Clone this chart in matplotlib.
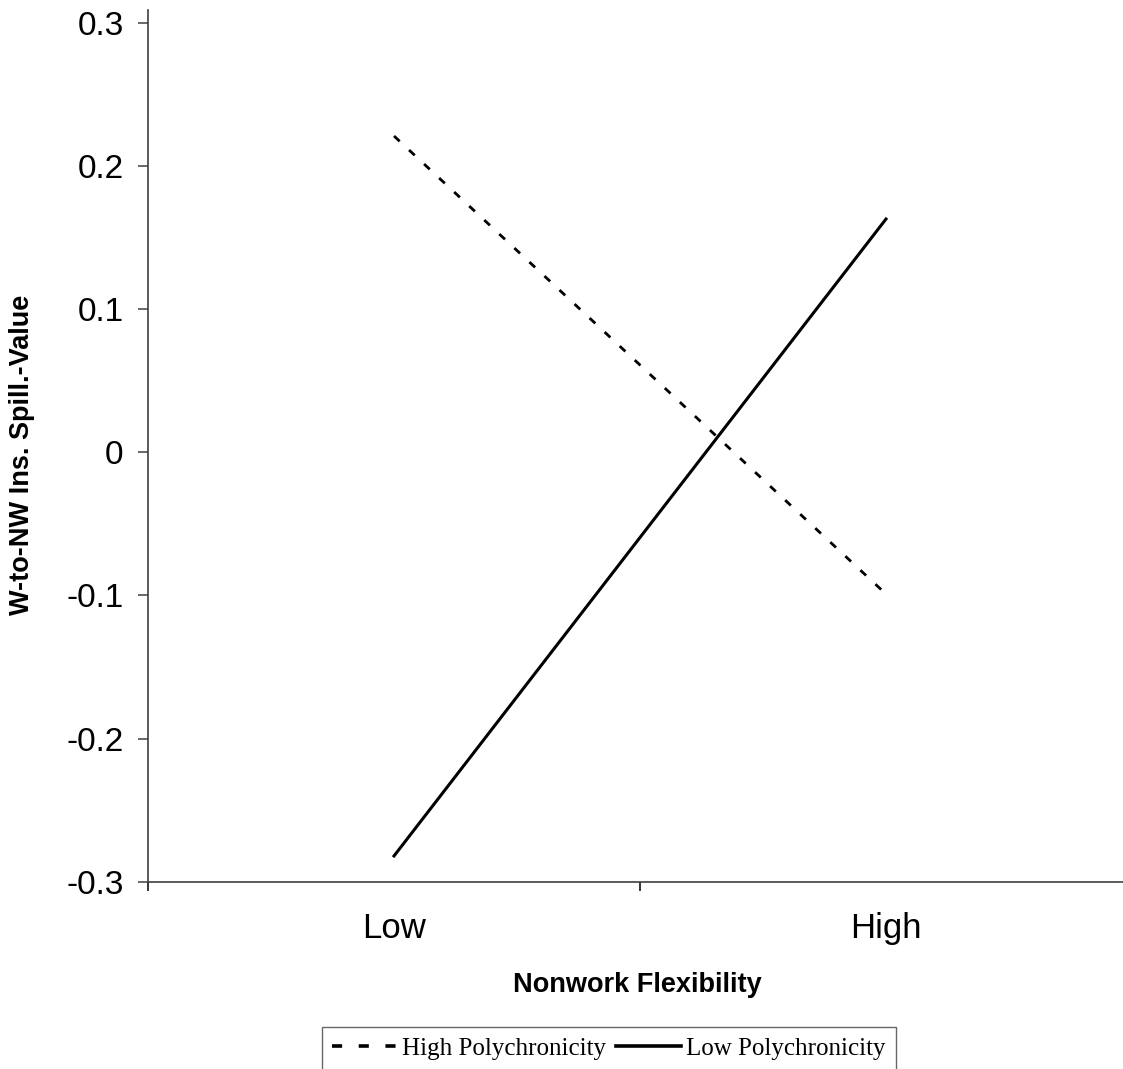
import matplotlib
matplotlib.use('Agg')
import matplotlib.pyplot as plt
from matplotlib.ticker import FixedLocator, NullFormatter, FixedFormatter

# data
categories = ['Low', 'High']
cat_pos = [0.5, 1.5]
high_poly = [0.221, -0.099]
low_poly = [-0.282, 0.163]
series_names = ['High Polychronicity', 'Low Polychronicity']

plt.rcParams['font.family'] = ['Liberation Sans', 'DejaVu Sans']

fig = plt.figure(figsize=(11.23, 10.69), dpi=100)
ax = fig.add_axes([0.1318, 0.1752, 0.8762, 0.8154])

ax.plot(cat_pos, high_poly, color='black', lw=2.0, linestyle=(0, (2.8, 4.6)),
        label=series_names[0])
ax.plot(cat_pos, low_poly, color='black', lw=2.2, linestyle='-',
        label=series_names[1])

ax.set_xlim(0, 2)
ax.set_ylim(-0.3, 0.309)
ax.set_yticks([-0.3, -0.2, -0.1, 0, 0.1, 0.2, 0.3])
ax.set_yticklabels(['-0.3', '-0.2', '-0.1', '0', '0.1', '0.2', '0.3'])

ax.xaxis.set_major_locator(FixedLocator([0, 1, 2]))
ax.xaxis.set_major_formatter(NullFormatter())
ax.xaxis.set_minor_locator(FixedLocator(cat_pos))
ax.xaxis.set_minor_formatter(FixedFormatter(categories))

for s in ['top', 'right']:
    ax.spines[s].set_visible(False)
for s in ['left', 'bottom']:
    ax.spines[s].set_color('#404040')
    ax.spines[s].set_linewidth(1.2)

ax.tick_params(axis='y', which='major', direction='out', length=7.5, width=1.1,
               color='#404040', labelsize=24, pad=10)
ax.tick_params(axis='x', which='major', direction='out', length=6.5, width=1.1,
               color='black')
ax.tick_params(axis='x', which='minor', length=0, labelsize=25, pad=22)

fig.text(0.568, 1 - 985 / 1069, 'Nonwork Flexibility', fontsize=19.5,
         fontweight='bold', ha='center', va='center')
fig.text(22 / 1123, 1 - 455 / 1069, 'W-to-NW Ins. Spill.-Value', fontsize=19.5,
         fontweight='bold', ha='center', va='center', rotation=90)

leg = fig.legend(loc='upper left', bbox_to_anchor=(322 / 1123, 1 - 1027 / 1069),
                 ncol=2, frameon=True, fancybox=False, edgecolor='#404040',
                 prop={'family': 'Liberation Serif', 'size': 18},
                 handlelength=2.6, handletextpad=0.2, columnspacing=0.4,
                 borderpad=0.4, borderaxespad=0)
leg.get_frame().set_linewidth(1.0)
for h in leg.get_lines():
    h.set_linewidth(2.6)

fig.savefig('out.png', dpi=100)
